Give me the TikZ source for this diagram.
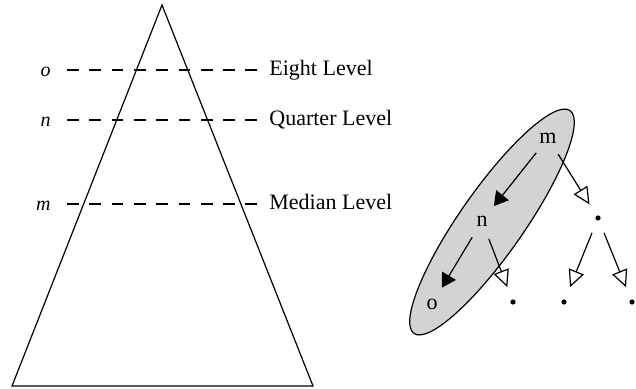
\documentclass[tikz,border=0pt]{standalone}
\usepackage{fontspec}
\setmainfont{Liberation Serif}
\usepackage{xcolor}
\usepackage{tikz}
\usetikzlibrary{shapes.geometric,arrows.meta,positioning,backgrounds}
\definecolor{quantGroupFill}{RGB}{211,211,211}
\definecolor{quantLine}{RGB}{0,0,0}
\tikzset{
  pyramidline/.style={draw=quantLine, line width=0.6pt, line join=miter},
  levelline/.style={draw=quantLine, line width=0.6pt, dash pattern=on 5.85pt off 5.3pt,
    shorten <=8pt, shorten >=6pt},
  levellabel/.style={anchor=east, inner sep=0pt, text height=7pt, text depth=0pt, font=\itshape},
  leveltext/.style={anchor=west, inner sep=0pt, text height=6pt, text depth=0pt},
  treenode/.style={circle, minimum size=19pt, inner sep=0pt, outer sep=0pt},
  dotnode/.style={circle, minimum size=16pt, inner sep=0pt, outer sep=0pt,
    path picture={\fill[quantLine] (path picture bounding box.center) circle (1.3pt);}},
  groupellipse/.style={ellipse, draw=quantLine, fill=quantGroupFill, line width=0.6pt,
    minimum width=136pt, minimum height=32pt, inner sep=0pt},
  pickarrow/.style={-{Triangle[length=7pt,width=8pt]}, draw=quantLine, line width=0.6pt},
  skiparrow/.style={-{Triangle[open,length=8.5pt,width=8pt]}, draw=quantLine, line width=0.6pt},
}

\begin{document}
\begin{tikzpicture}[x=0.5pt, y=-0.5pt, font=\fontsize{11}{13}\selectfont]
  \useasboundingbox (0,0) rectangle (636,389);

  % pyramid with its three levels
  \coordinate (apex) at (162,5);
  \coordinate (baseL) at (12,386);
  \coordinate (baseR) at (313,386);
  \draw[pyramidline] (apex) -- (baseL) -- (baseR) -- cycle;

  \node[levellabel] (lo) at (51,70) {o};
  \node[levellabel] (ln) at (51,120) {n};
  \node[levellabel] (lm) at (51,204) {m};
  \node[leveltext] (eight) at (269,70) {Eight Level};
  \node[leveltext] (quarter) at (269,120) {Quarter Level};
  \node[leveltext] (median) at (269,204) {Median Level};

  \draw[levelline] (lo.east) -- (eight.west);
  \draw[levelline] (ln.east) -- (quarter.west);
  \draw[levelline] (lm.east) -- (median.west);

  % selection tree
  \node[groupellipse, rotate=55] (grp) at (492,222) {};

  \node[treenode] (m) at (548,138) {m};
  \node[treenode] (n) at (482,221) {n};
  \node[treenode] (o) at (432,304) {o};
  \node[dotnode] (d1) at (598,218) {};
  \node[dotnode] (d2) at (513,302) {};
  \node[dotnode] (d3) at (564,302) {};
  \node[dotnode] (d4) at (632,302) {};

  \draw[pickarrow] (m) -- (n);
  \draw[pickarrow] (n) -- (o);
  \draw[skiparrow] (m) -- (d1);
  \draw[skiparrow] (n) -- (d2);
  \draw[skiparrow] (d1) -- (d3);
  \draw[skiparrow] (d1) -- (d4);
\end{tikzpicture}
\end{document}
